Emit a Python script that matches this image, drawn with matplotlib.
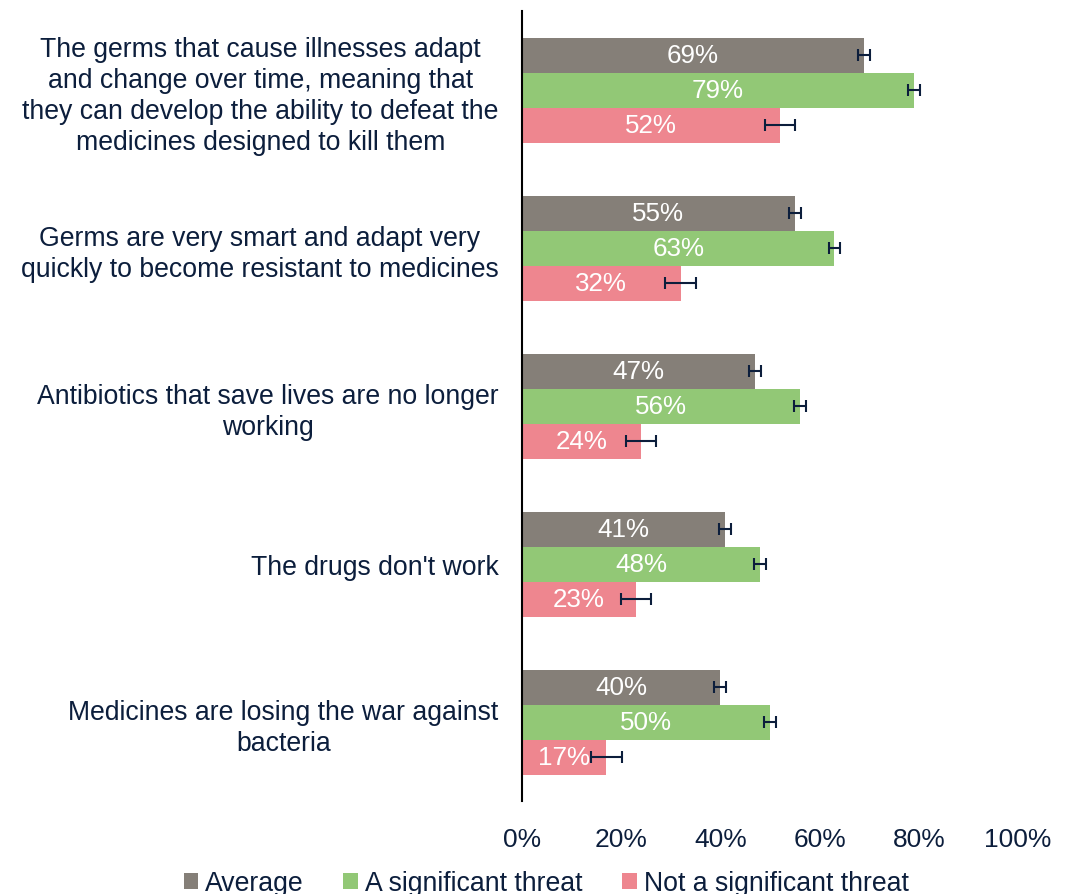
import numpy as np
import matplotlib.pyplot as plt

# 항목 라벨
categories = [
    'The germs that cause illnesses adapt\nand change over time, meaning that\nthey can develop the ability to defeat the\nmedicines designed to kill them',
    'Germs are very smart and adapt very\nquickly to become resistant to medicines',
    'Antibiotics that save lives are no longer\nworking',
    "The drugs don't work",
    'Medicines are losing the war against\nbacteria',
]
series_names = ['Average', 'A significant threat', 'Not a significant threat']

avg_vals = [69, 55, 47, 41, 40]
sig_vals = [79, 63, 56, 48, 50]
notsig_vals = [52, 32, 24, 23, 17]

avg_err = [1.2, 1.2, 1.2, 1.2, 1.2]
sig_err = [1.2, 1.2, 1.2, 1.2, 1.2]
notsig_err = [3.1, 3.1, 3.1, 3.1, 3.1]

xticks = [0, 20, 40, 60, 80, 100]

plt.rcParams['font.family'] = ['Liberation Sans', 'DejaVu Sans']
text_color = '#0c1e3c'
colors = ['#857f78', '#92c876', '#ee868f']

fig = plt.figure(figsize=(10.67, 8.95), dpi=100)
ax = fig.add_axes([522 / 1067, 1 - 802 / 895, (1018 - 522) / 1067, 790 / 895])

y = np.arange(len(categories))
h = 35 / 158
offsets = [-h, 0, h]
vals = [avg_vals, sig_vals, notsig_vals]
errs = [avg_err, sig_err, notsig_err]

for i in range(3):
    ax.barh(y + offsets[i], vals[i], height=h, color=colors[i], label=series_names[i],
            xerr=errs[i], error_kw=dict(ecolor=text_color, elinewidth=1.5, capsize=4.5, capthick=1.5))
    for yy, v in zip(y + offsets[i], vals[i]):
        ax.text(v / 2, yy, f'{v}%', ha='center', va='center', color='white', fontsize=18.7)

ax.set_ylim(len(categories) - 0.5, -0.5)
ax.set_xlim(0, 100)
ax.set_yticks(y)
ax.set_yticklabels(categories, fontsize=19.2, color=text_color, multialignment='center', linespacing=1.26)
ax.set_xticks(xticks)
ax.set_xticklabels([f'{t}%' for t in xticks], fontsize=19, color=text_color)
ax.tick_params(axis='both', length=0)
ax.tick_params(axis='y', pad=17)
ax.tick_params(axis='x', pad=19)
for s in ['top', 'right', 'bottom']:
    ax.spines[s].set_visible(False)
ax.spines['left'].set_color('black')
ax.spines['left'].set_linewidth(1.5)

fig.legend(loc='center', bbox_to_anchor=(546 / 1067, 11 / 895), ncol=3, frameon=False,
           fontsize=19.2, handlelength=0.55, handleheight=0.55, handletextpad=0.25,
           columnspacing=1.5, labelcolor=text_color)

plt.savefig('out.png', dpi=100)
